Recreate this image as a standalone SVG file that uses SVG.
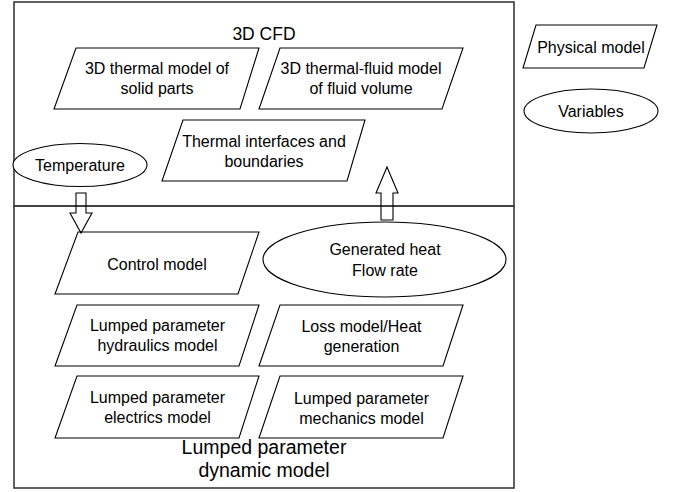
<svg xmlns="http://www.w3.org/2000/svg" width="679" height="492" viewBox="0 0 679 492">
<style>
.box{fill:none;stroke:#3a3a3a;stroke-width:1.6}
.node{fill:#fff;stroke:#000;stroke-width:1.1}
.arrow{fill:none;stroke:#000;stroke-width:1.1}
text{font-family:"Liberation Sans",Arial,sans-serif;font-size:16px;fill:#000;text-anchor:middle}
.big{font-size:17.5px}
.title{font-size:19.5px}
</style>
<rect width="679" height="492" fill="#fff"/>
<g id="container-cfd">
<rect class="box" x="14" y="2" width="500" height="204"/>
<text class="big" x="264" y="40">3D CFD</text>
</g>
<g id="container-lumped">
<rect class="box" x="14" y="206" width="500" height="282"/>
<text class="title" x="264" y="454">Lumped parameter</text>
<text class="title" x="264" y="477">dynamic model</text>
</g>
<g id="solid-thermal">
<polygon class="node" points="76,48 259,48 240,109 54,109"/>
<text x="157" y="74">3D thermal model of</text>
<text x="157" y="94">solid parts</text>
</g>
<g id="fluid-thermal">
<polygon class="node" points="280,48 463,48 442,109 259,109"/>
<text x="361" y="74">3D thermal-fluid model</text>
<text x="361" y="94">of fluid volume</text>
</g>
<g id="interfaces">
<polygon class="node" points="183,120 365,120 347,181 162,181"/>
<text x="264" y="146.5">Thermal interfaces and</text>
<text x="264" y="166.5">boundaries</text>
</g>
<g id="temperature">
<ellipse class="node" cx="80" cy="165" rx="67" ry="21.5"/>
<text x="80" y="171">Temperature</text>
</g>
<g id="control">
<polygon class="node" points="78,232 259,232 238,294 55,294"/>
<text x="157" y="270">Control model</text>
</g>
<g id="generated-heat">
<ellipse class="node" cx="384.5" cy="259.5" rx="121.5" ry="37.5"/>
<text x="385" y="255">Generated heat</text>
<text x="385" y="276">Flow rate</text>
</g>
<g id="hydraulics">
<polygon class="node" points="77,305 259,305 239,366 55,366"/>
<text x="157.5" y="331">Lumped parameter</text>
<text x="157.5" y="351">hydraulics model</text>
</g>
<g id="loss">
<polygon class="node" points="280,305 463,305 443,366 259,366"/>
<text x="361.5" y="331.5">Loss model/Heat</text>
<text x="361.5" y="351.5">generation</text>
</g>
<g id="electrics">
<polygon class="node" points="77,376 259,376 239,438 55,438"/>
<text x="157.5" y="403">Lumped parameter</text>
<text x="157.5" y="423">electrics model</text>
</g>
<g id="mechanics">
<polygon class="node" points="280,376 463,376 443,438 259,438"/>
<text x="361.5" y="404">Lumped parameter</text>
<text x="361.5" y="424">mechanics model</text>
</g>
<g id="legend-physical">
<polygon class="node" points="536,25 657,25 644,68 523,68"/>
<text x="591" y="53">Physical model</text>
</g>
<g id="legend-variables">
<ellipse class="node" cx="591" cy="111" rx="67" ry="22"/>
<text x="591" y="117">Variables</text>
</g>
<g id="connectors">
<polygon class="arrow" points="76,193 86,193 86,213 92,213 81,233 70,213 76,213"/>
<polygon class="arrow" points="381,220 393,220 393,193 398,193 387,167 376,193 381,193"/>
</g>
</svg>
